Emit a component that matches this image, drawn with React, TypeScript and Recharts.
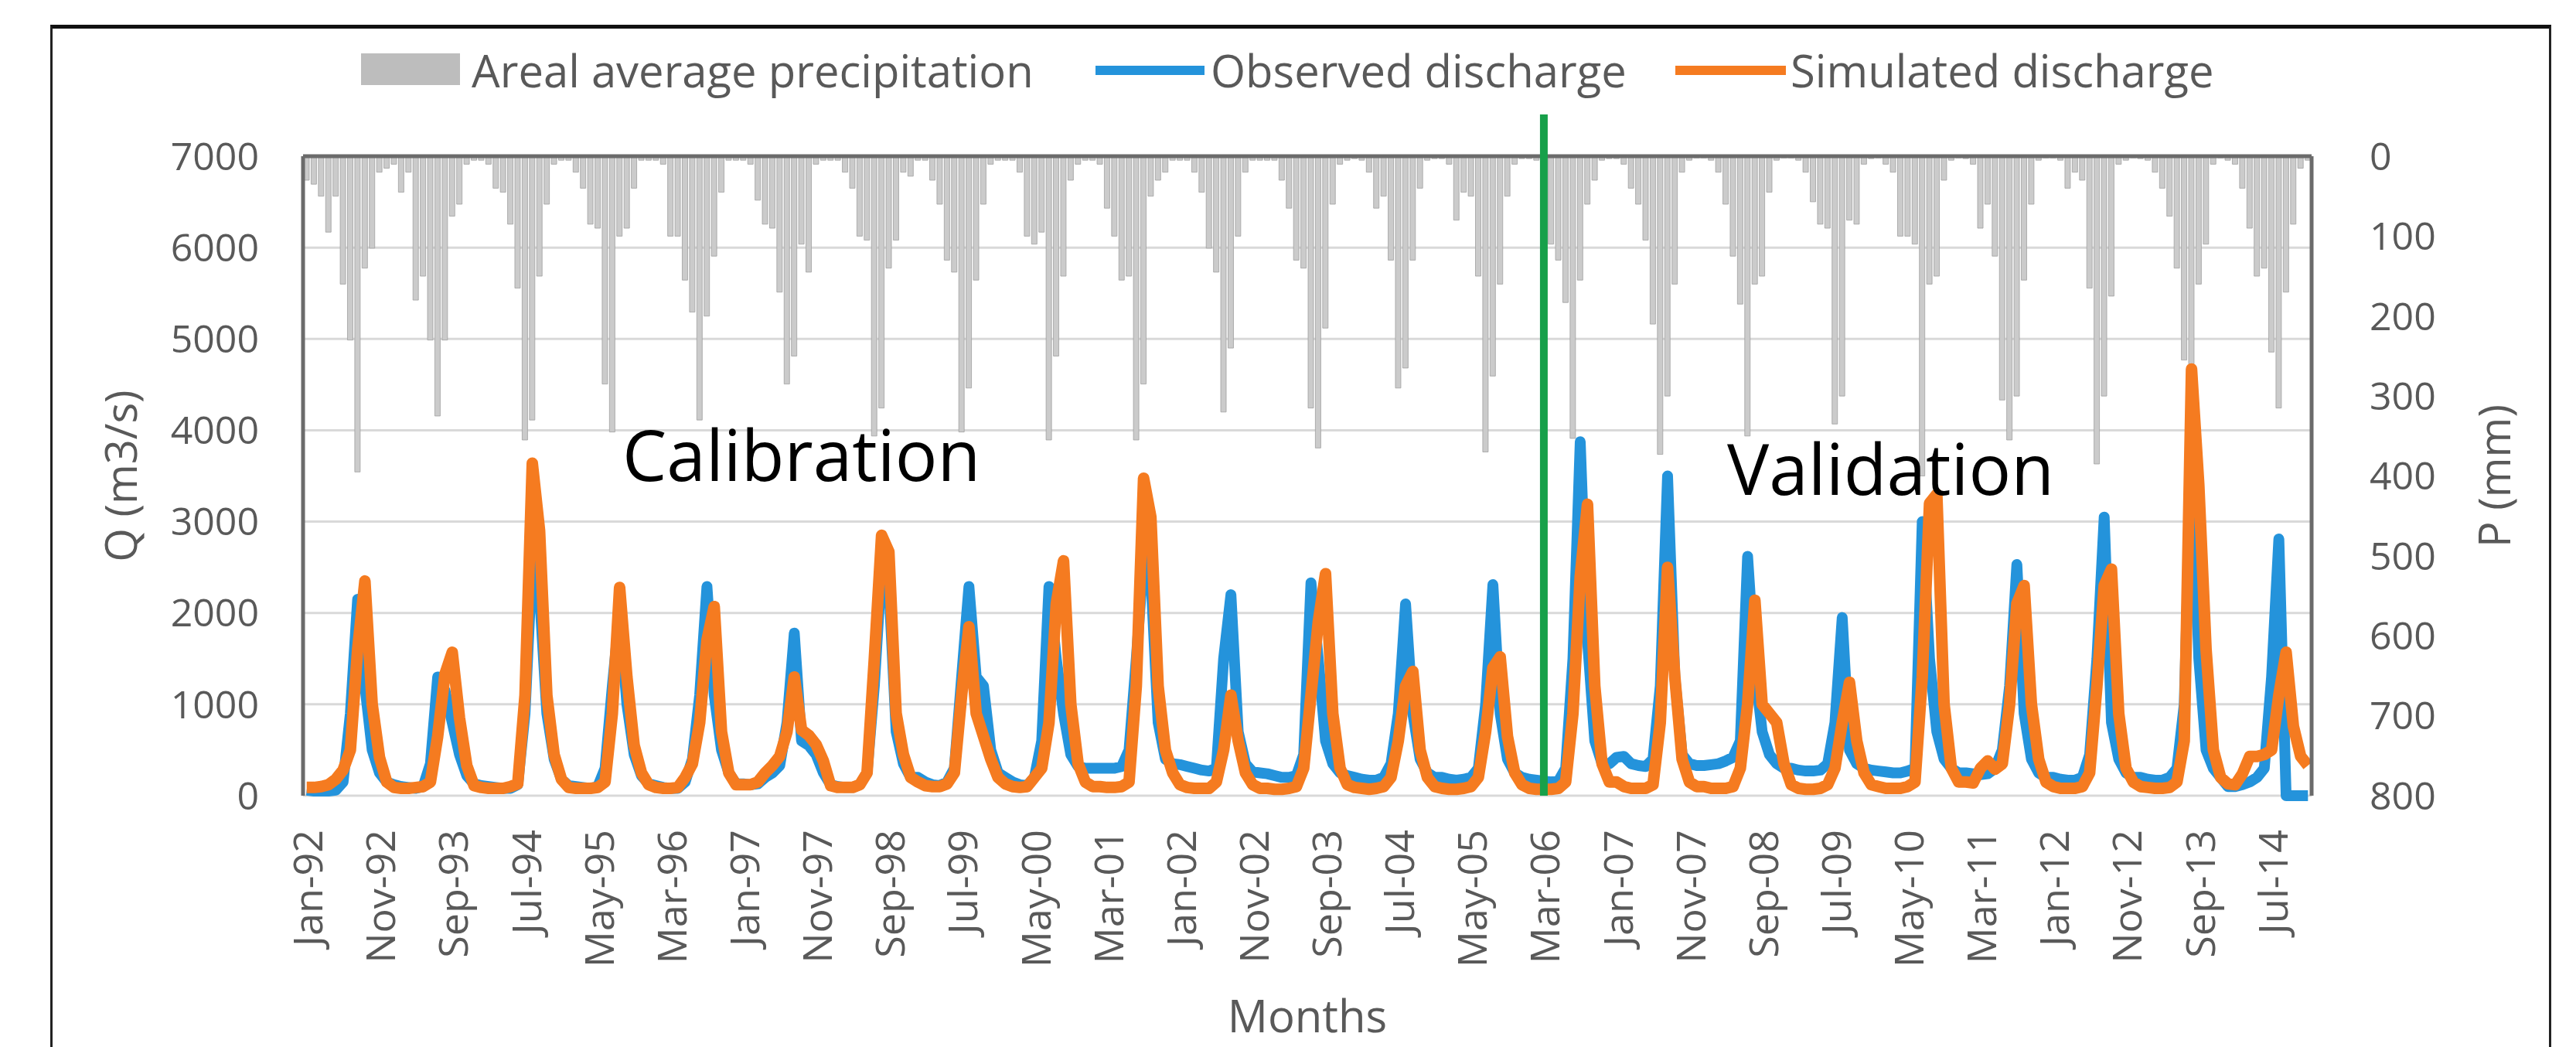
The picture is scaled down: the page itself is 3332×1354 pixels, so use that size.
import React from 'react';
import { ComposedChart, Bar, Line, XAxis, YAxis, CartesianGrid, ReferenceLine } from 'recharts';

// month labels: Jan-92 ... Dec-14
const MONTH_NAMES = ['Jan', 'Feb', 'Mar', 'Apr', 'May', 'Jun', 'Jul', 'Aug', 'Sep', 'Oct', 'Nov', 'Dec'];
const YEAR_SUFFIXES = ['92', '93', '94', '95', '96', '97', '98', '99', '00', '01', '02', '03', '04', '05', '06', '07', '08', '09', '10', '11', '12', '13', '14'];

// observed discharge Q (m3/s), one row per year
const observedQ = [
  60, 50, 50, 50, 60, 150, 900, 2150, 1200, 500, 250, 150, // 1992
  120, 100, 90, 80, 100, 350, 1300, 1150, 800, 450, 220, 130, // 1993
  110, 100, 90, 80, 80, 120, 900, 2600, 2200, 900, 400, 180, // 1994
  110, 100, 90, 80, 100, 300, 1200, 2000, 1000, 450, 220, 130, // 1995
  110, 90, 80, 80, 150, 400, 1100, 2290, 1100, 500, 250, 130, // 1996
  130, 120, 130, 200, 250, 330, 800, 1780, 600, 550, 450, 250, // 1997
  120, 100, 90, 90, 120, 250, 1200, 2500, 2300, 700, 350, 200, // 1998
  200, 150, 120, 110, 150, 300, 1300, 2290, 1300, 1200, 500, 250, // 1999
  200, 150, 120, 110, 200, 600, 2290, 1500, 900, 450, 320, 300, // 2000
  300, 300, 300, 300, 320, 500, 1500, 2600, 2400, 800, 400, 350, // 2001
  340, 320, 300, 280, 270, 300, 1500, 2200, 700, 350, 260, 250, // 2002
  240, 220, 200, 200, 220, 450, 2330, 1500, 600, 350, 250, 220, // 2003
  200, 180, 170, 170, 200, 350, 900, 2100, 900, 400, 250, 200, // 2004
  200, 180, 170, 180, 200, 300, 1000, 2310, 900, 400, 250, 200, // 2005
  180, 170, 160, 150, 160, 300, 1500, 3875, 1700, 600, 350, 350, // 2006
  420, 430, 350, 330, 320, 400, 1200, 3500, 1300, 450, 350, 330, // 2007
  330, 340, 350, 380, 420, 600, 2620, 1400, 700, 450, 350, 300, // 2008
  300, 280, 270, 270, 280, 350, 800, 1950, 500, 350, 300, 280, // 2009
  270, 260, 250, 250, 270, 300, 3000, 1500, 700, 400, 300, 250, // 2010
  250, 240, 230, 240, 300, 500, 1200, 2530, 900, 400, 250, 200, // 2011
  200, 180, 170, 170, 200, 450, 1500, 3050, 800, 400, 250, 200, // 2012
  200, 180, 170, 170, 200, 300, 1000, 3800, 1500, 500, 300, 200, // 2013
  100, 100, 120, 150, 200, 300, 1300, 2810, 0, 0, 0, 0, // 2014
];

// simulated discharge Q (m3/s)
const simulatedQ = [
  90, 90, 100, 120, 180, 280, 500, 1600, 2350, 1000, 420, 150, // 1992
  90, 80, 80, 90, 100, 150, 650, 1330, 1570, 850, 330, 110, // 1993
  90, 80, 80, 80, 100, 130, 1100, 3640, 2900, 1100, 450, 180, // 1994
  90, 80, 80, 80, 90, 150, 900, 2280, 1300, 550, 250, 120, // 1995
  90, 80, 80, 90, 200, 350, 800, 1700, 2070, 700, 250, 120, // 1996
  120, 120, 150, 250, 330, 430, 700, 1300, 720, 660, 560, 380, // 1997
  110, 90, 90, 90, 120, 250, 1500, 2850, 2670, 900, 450, 200, // 1998
  150, 110, 100, 100, 130, 250, 1100, 1850, 900, 650, 400, 200, // 1999
  130, 100, 90, 100, 200, 300, 800, 2100, 2570, 1000, 350, 150, // 2000
  100, 100, 90, 90, 100, 150, 1200, 3475, 3050, 1200, 500, 250, // 2001
  120, 90, 80, 80, 80, 150, 500, 1100, 600, 250, 120, 80, // 2002
  80, 70, 70, 80, 100, 300, 1100, 1900, 2430, 900, 300, 120, // 2003
  90, 80, 70, 80, 100, 200, 600, 1200, 1360, 500, 200, 100, // 2004
  80, 70, 70, 80, 100, 200, 700, 1400, 1520, 650, 250, 120, // 2005
  80, 70, 70, 70, 80, 150, 900, 2400, 3190, 1200, 350, 150, // 2006
  150, 100, 80, 80, 80, 120, 800, 2500, 1300, 400, 150, 100, // 2007
  100, 80, 80, 80, 100, 300, 1000, 2140, 1000, 900, 800, 350, // 2008
  120, 80, 70, 70, 80, 120, 300, 800, 1240, 600, 250, 120, // 2009
  100, 80, 80, 80, 100, 150, 1300, 3200, 3300, 1000, 300, 150, // 2010
  150, 140, 300, 380, 290, 350, 1000, 2100, 2300, 1000, 400, 150, // 2011
  100, 80, 80, 80, 100, 250, 1200, 2300, 2480, 900, 300, 150, // 2012
  100, 90, 80, 80, 90, 150, 600, 4670, 3400, 1600, 500, 200, // 2013
  130, 120, 240, 430, 430, 450, 500, 1100, 1570, 760, 430, 330, // 2014
];

// areal average precipitation P (mm)
const precipMm = [
  30, 35, 50, 95, 50, 160, 230, 395, 140, 115, 20, 15, // 1992
  10, 45, 20, 180, 150, 230, 325, 230, 75, 60, 10, 5, // 1993
  5, 10, 40, 45, 85, 165, 355, 330, 150, 60, 10, 5, // 1994
  5, 20, 40, 85, 90, 285, 345, 100, 90, 40, 5, 5, // 1995
  5, 10, 100, 100, 155, 195, 330, 200, 125, 45, 5, 5, // 1996
  5, 10, 55, 85, 90, 170, 285, 250, 110, 145, 10, 5, // 1997
  5, 5, 20, 40, 100, 105, 350, 315, 140, 105, 20, 25, // 1998
  5, 5, 30, 60, 130, 145, 345, 290, 155, 60, 10, 5, // 1999
  5, 5, 20, 100, 110, 95, 355, 250, 150, 30, 10, 5, // 2000
  5, 10, 65, 100, 155, 150, 355, 285, 50, 30, 20, 5, // 2001
  5, 5, 20, 45, 115, 145, 320, 240, 100, 20, 5, 5, // 2002
  5, 5, 30, 65, 130, 140, 315, 365, 215, 60, 10, 5, // 2003
  3, 5, 20, 65, 50, 130, 290, 265, 130, 40, 5, 3, // 2004
  3, 10, 80, 45, 50, 150, 370, 275, 160, 50, 10, 3, // 2005
  3, 5, 70, 110, 130, 183, 353, 155, 60, 30, 5, 3, // 2006
  3, 10, 40, 60, 105, 210, 373, 300, 160, 20, 5, 2, // 2007
  2, 5, 20, 60, 125, 185, 350, 160, 150, 45, 5, 2, // 2008
  2, 5, 20, 57, 85, 90, 335, 300, 80, 85, 10, 3, // 2009
  2, 10, 20, 100, 100, 110, 400, 160, 150, 30, 5, 2, // 2010
  3, 10, 90, 60, 125, 305, 355, 300, 155, 60, 5, 2, // 2011
  2, 5, 40, 20, 30, 165, 385, 300, 175, 10, 5, 2, // 2012
  3, 5, 20, 40, 75, 140, 255, 260, 160, 110, 10, 2, // 2013
  5, 10, 40, 90, 150, 140, 245, 315, 170, 85, 15, 5, // 2014
];

const qTicks = [0, 1000, 2000, 3000, 4000, 5000, 6000, 7000];
const pTicks = [0, 100, 200, 300, 400, 500, 600, 700, 800];
const splitMonth = 'Mar-06';

const monthLabels = YEAR_SUFFIXES.flatMap((y) => MONTH_NAMES.map((m) => `${m}-${y}`));
const data = monthLabels.map((month, i) => ({
  month,
  precip: precipMm[i],
  observed: observedQ[i],
  simulated: simulatedQ[i],
}));

const AXIS_GREY = '#595959';
const FONT = "'Open Sans', sans-serif";
const BLUE = '#2493db';
const ORANGE = '#f57b20';
const GREEN = '#17a04a';

const MonthTick = (props: any) => {
  const { x, y, payload } = props;
  return (
    <text
      x={x}
      y={y}
      transform={`rotate(-90, ${x}, ${y})`}
      textAnchor="end"
      dominantBaseline="central"
      fill={AXIS_GREY}
      fontSize={52}
      fontFamily={FONT}
    >
      {payload.value}
    </text>
  );
};

const App: React.FC = () => {
  return (
    <div style={{ position: 'relative', width: 3316, height: 1346, background: '#fff', overflow: 'hidden', fontFamily: FONT }}>
      {/* outer frame, open at the bottom */}
      <div
        style={{
          position: 'absolute',
          left: 57,
          top: 24,
          width: 3235,
          height: 1400,
          borderTop: '5px solid #111',
          borderLeft: '3px solid #222',
          borderRight: '3px solid #222',
          boxSizing: 'border-box',
        }}
      />
      <ComposedChart
        width={3316}
        height={1346}
        data={data}
        margin={{ top: 194, right: 134, bottom: 125, left: 184 }}
        barCategoryGap={1}
        style={{ position: 'absolute', left: 0, top: 0 }}
      >
        <CartesianGrid yAxisId="q" vertical={false} stroke="#d9d9d9" strokeWidth={3} />
        <XAxis
          dataKey="month"
          interval={9}
          tickLine={false}
          axisLine={false}
          height={200}
          tickMargin={38}
          tick={<MonthTick />}
          label={{
            content: (p: any) => (
              <text
                x={p.viewBox.x + p.viewBox.width / 2}
                y={p.viewBox.y + 306}
                textAnchor="middle"
                fill={AXIS_GREY}
                fontSize={58}
                fontFamily={FONT}
              >
                Months
              </text>
            ),
          }}
        />
        <YAxis
          yAxisId="q"
          domain={[0, 7000]}
          ticks={qTicks}
          width={200}
          tickLine={false}
          tickMargin={51}
          axisLine={{ stroke: '#6b6b6b', strokeWidth: 5 }}
          tick={{ fill: AXIS_GREY, fontSize: 50, fontFamily: FONT }}
          label={{
            content: (p: any) => {
              const cx = 147;
              const cy = p.viewBox.y + p.viewBox.height / 2;
              return (
                <text
                  x={cx}
                  y={cy}
                  transform={`rotate(-90, ${cx}, ${cy})`}
                  textAnchor="middle"
                  dominantBaseline="central"
                  fill={AXIS_GREY}
                  fontSize={56}
                  fontFamily={FONT}
                >
                  Q (m3/s)
                </text>
              );
            },
          }}
        />
        <YAxis
          yAxisId="p"
          orientation="right"
          domain={[0, 800]}
          ticks={pTicks}
          reversed
          width={200}
          tickLine={false}
          tickMargin={69}
          axisLine={{ stroke: '#6b6b6b', strokeWidth: 5 }}
          tick={{ fill: AXIS_GREY, fontSize: 50, fontFamily: FONT, textAnchor: 'start' }}
          label={{
            content: (p: any) => {
              const cx = 3217;
              const cy = p.viewBox.y + p.viewBox.height / 2;
              return (
                <text
                  x={cx}
                  y={cy}
                  transform={`rotate(-90, ${cx}, ${cy})`}
                  textAnchor="middle"
                  dominantBaseline="central"
                  fill={AXIS_GREY}
                  fontSize={56}
                  fontFamily={FONT}
                >
                  P (mm)
                </text>
              );
            },
          }}
        />
        <Bar
          yAxisId="p"
          dataKey="precip"
          name="Areal average precipitation"
          fill="#cbcbcb"
          stroke="#a0a0a0"
          strokeWidth={0.8}
          isAnimationActive={false}
        />
        <ReferenceLine yAxisId="p" y={0} stroke="#6b6b6b" strokeWidth={5} />
        <Line
          yAxisId="q"
          type="linear"
          dataKey="observed"
          name="Observed discharge"
          stroke={BLUE}
          strokeWidth={14}
          strokeLinejoin="round"
          dot={false}
          isAnimationActive={false}
        />
        <Line
          yAxisId="q"
          type="linear"
          dataKey="simulated"
          name="Simulated discharge"
          stroke={ORANGE}
          strokeWidth={15}
          strokeLinejoin="round"
          dot={false}
          isAnimationActive={false}
        />
        <ReferenceLine
          yAxisId="q"
          x={splitMonth}
          shape={(p: any) => {
            const top = Math.min(p.y1, p.y2) - 54;
            const bottom = Math.max(p.y1, p.y2);
            return <line x1={p.x1} x2={p.x2} y1={top} y2={bottom} stroke={GREEN} strokeWidth={10} />;
          }}
        />
      </ComposedChart>
      {/* legend and period annotations */}
      <svg width={3316} height={1346} style={{ position: 'absolute', left: 0, top: 0, pointerEvents: 'none' }}>
        <rect x={459} y={61} width={128} height={41} fill="#bdbdbd" />
        <text x={602} y={82} dominantBaseline="central" fill={AXIS_GREY} fontSize={58} fontFamily={FONT}>
          Areal average precipitation
        </text>
        <line x1={1409} x2={1550} y1={83} y2={83} stroke={BLUE} strokeWidth={12} />
        <text x={1558} y={82} dominantBaseline="central" fill={AXIS_GREY} fontSize={58} fontFamily={FONT}>
          Observed discharge
        </text>
        <line x1={2159} x2={2302} y1={83} y2={83} stroke={ORANGE} strokeWidth={12} />
        <text x={2308} y={82} dominantBaseline="central" fill={AXIS_GREY} fontSize={58} fontFamily={FONT}>
          Simulated discharge
        </text>
        <text x={797} y={614} fill="#000" fontSize={91} fontFamily={FONT}>
          Calibration
        </text>
        <text x={2226} y={632} fill="#000" fontSize={91} fontFamily={FONT}>
          Validation
        </text>
      </svg>
    </div>
  );
};

export default App;
